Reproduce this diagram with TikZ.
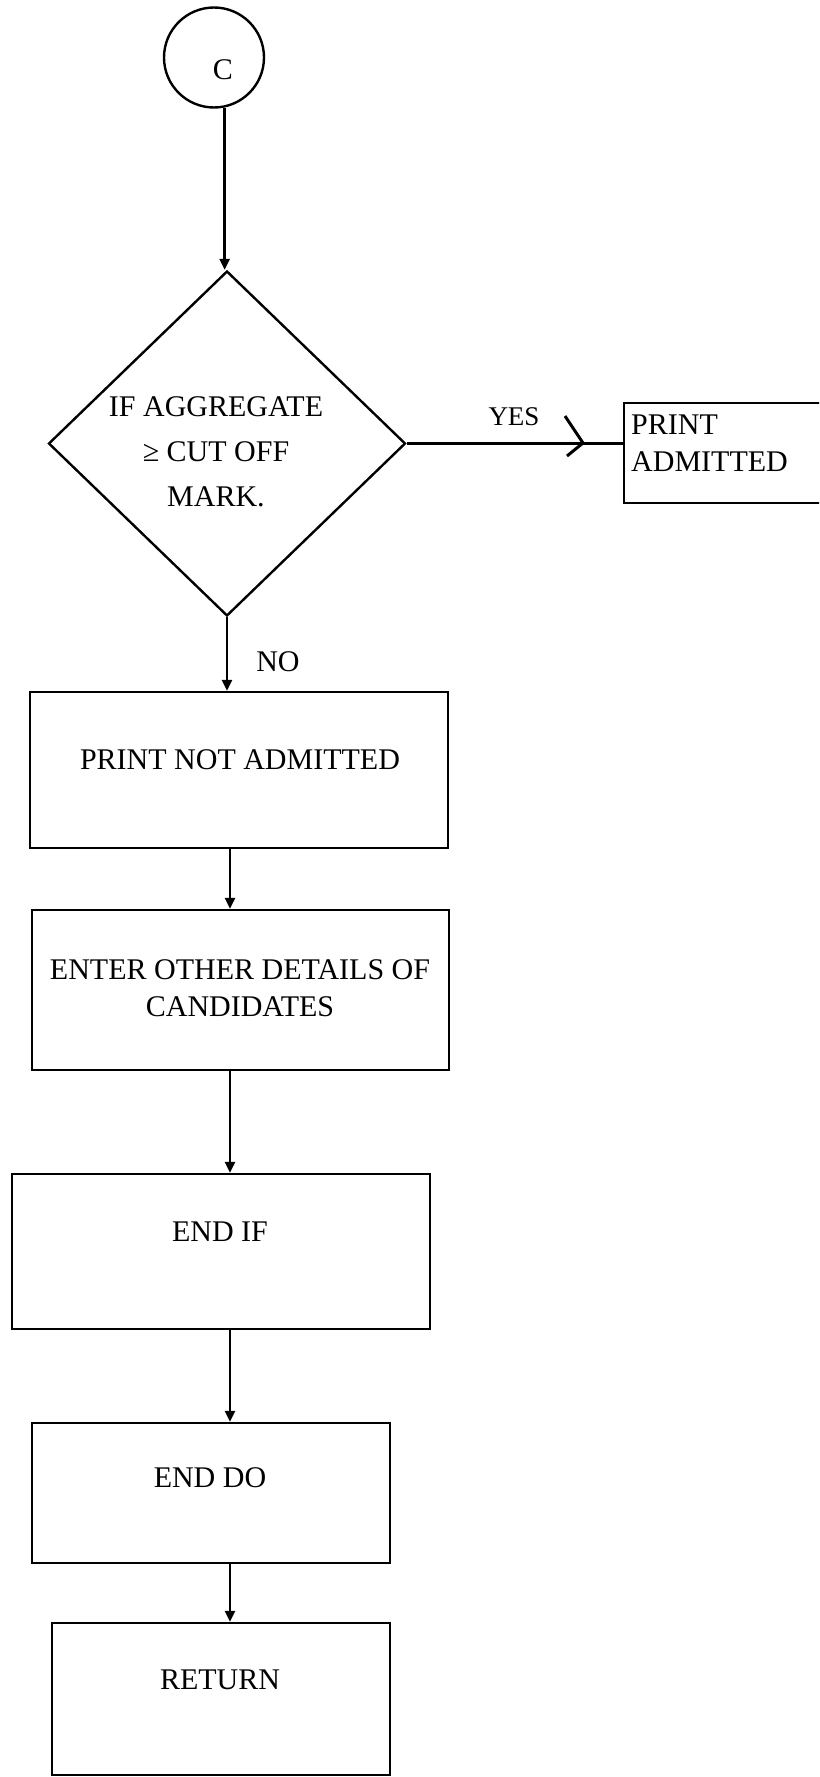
\documentclass[tikz,border=0pt]{standalone}
\usepackage{fontspec}
\setmainfont{Liberation Serif}
\usetikzlibrary{shapes.geometric,arrows.meta}
\begin{document}
\begin{tikzpicture}[x=1pt,y=-1pt,
  line width=2.4pt,
  every node/.style={font=\fontsize{30pt}{37pt}\selectfont},
  stepbox/.style={draw, rectangle, inner sep=0pt},
  decision/.style={draw, diamond, inner sep=0pt},
  connector/.style={draw, circle, inner sep=0pt, minimum size=100pt},
  txt/.style={inner sep=0pt, align=center},
  flow/.style={-{Triangle[length=11pt,width=10pt]}},
  chevron/.style={line width=3pt},
]
\useasboundingbox (0,0) rectangle (819,1777);
\clip (0,0) rectangle (819,1777);
\fill[white] (0,0) rectangle (819,1777);

% on-page connector and decision
\node[connector] (c) at (214,57.5) {};
\node[txt] (cl) at (223,70) {C};
\node[decision, minimum width=357pt, minimum height=345pt] (d) at (227,443.5) {};
\node[txt, font=\fontsize{30pt}{45pt}\selectfont] (dl) at (216,452)
  {IF AGGREGATE\\ ≥ CUT OFF\\ MARK.};

% yes branch
\node[stepbox, minimum width=336pt, minimum height=100pt] (pa) at (792,453) {};
\node[txt, anchor=west, align=left] (pal) at (630,443.5) {PRINT\\ADMITTED};

% process steps
\node[stepbox, minimum width=418pt, minimum height=156pt] (pna) at (239,770) {};
\node[txt] (pnal) at (240,760) {PRINT NOT ADMITTED};
\node[stepbox, minimum width=417pt, minimum height=160pt] (ent) at (240.5,990) {};
\node[txt] (entl) at (240,988) {ENTER OTHER DETAILS OF\\CANDIDATES};
\node[stepbox, minimum width=418pt, minimum height=155pt] (eif) at (221,1251.5) {};
\node[txt] (eifl) at (220,1232) {END IF};
\node[stepbox, minimum width=358pt, minimum height=140pt] (edo) at (211,1493) {};
\node[txt] (edol) at (210,1478) {END DO};
\node[stepbox, minimum width=338pt, minimum height=152pt] (ret) at (221,1699) {};
\node[txt] (retl) at (220,1680) {RETURN};

% connectors
\coordinate (spine) at (230,0);
\draw[flow] (c.-78) -- (c.-78 |- d.north);
\draw[flow] (d.south) -- (d.south |- pna.north);
\node[txt] (no) at (278,662) {NO};
\draw[flow] (pna.south -| spine) -- (ent.north -| spine);
\draw[flow] (ent.south -| spine) -- (eif.north -| spine);
\draw[flow] (eif.south -| spine) -- (edo.north -| spine);
\draw[flow] (edo.south -| spine) -- (ret.north -| spine);

\draw (d.east) -- (d.east -| pa.west);
\coordinate (chev) at (583,443);
\draw[chevron] (chev) ++(-18,-27) -- (chev) -- ++(-16,13);
\node[txt, font=\fontsize{27pt}{30pt}\selectfont] (yes) at (514,417) {YES};
\end{tikzpicture}
\end{document}
